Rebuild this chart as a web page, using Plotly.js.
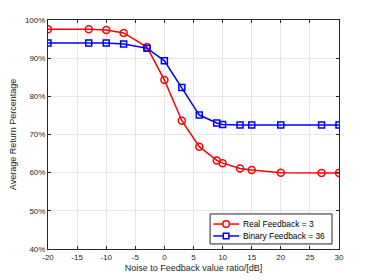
<!DOCTYPE html>
<html><head><meta charset="utf-8">
<script src="https://cdn.plot.ly/plotly-3.0.1.min.js"></script>
<style>html,body{margin:0;padding:0;background:#fff}#c{width:374px;height:280px}</style>
</head><body><div id="c"></div>
<script>
const xVals = [-20, -13, -10, -7, -3, 0, 3, 6, 9, 10, 13, 15, 20, 27, 30];
const realFeedback = [97.6, 97.6, 97.4, 96.6, 92.9, 84.3, 73.6, 66.8, 63.2, 62.5, 61.1, 60.7, 60.0, 59.9, 59.9];
const binaryFeedback = [94.0, 94.0, 94.0, 93.7, 92.6, 89.3, 82.3, 75.1, 73.0, 72.6, 72.5, 72.5, 72.5, 72.5, 72.5];
const seriesNames = ["Real Feedback = 3", "Binary Feedback = 36"];
const seriesColors = ['#ff0000', '#0000ff'];
const xTicks = [-20, -15, -10, -5, 0, 5, 10, 15, 20, 25, 30];
const yTicks = [40, 50, 60, 70, 80, 90, 100];

const FONT = 'Liberation Sans, Arial, sans-serif';
const axisCommon = {
  showgrid: true, gridcolor: '#e6e6e6', gridwidth: 1,
  showline: true, linecolor: '#262626', linewidth: 1, mirror: 'ticks',
  ticks: 'inside', ticklen: 3, tickcolor: '#262626',
  zeroline: false,
  tickfont: {family: FONT, size: 8, color: '#262626'}
};

const data = [
  {x: xVals, y: realFeedback, name: seriesNames[0], type: 'scatter', mode: 'lines+markers',
   line: {color: seriesColors[0], width: 1.5},
   marker: {symbol: 'circle-open', size: 7, color: seriesColors[0], line: {width: 1.5, color: seriesColors[0]}}},
  {x: xVals, y: binaryFeedback, name: seriesNames[1], type: 'scatter', mode: 'lines+markers',
   line: {color: seriesColors[1], width: 1.5},
   marker: {symbol: 'square-open', size: 6, color: seriesColors[1], line: {width: 1.5, color: seriesColors[1]}}}
];

// compact MATLAB-style legend built from shapes + annotations (paper coordinates)
const lg = {x0: 0.557, x1: 0.976, y0: 0.022, y1: 0.153, rows: [0.109, 0.057],
            lineX0: 0.568, lineX1: 0.657, markX: 0.612, textX: 0.664};
const shapes = [
  {type: 'rect', xref: 'paper', yref: 'paper', x0: lg.x0, x1: lg.x1, y0: lg.y0, y1: lg.y1,
   line: {color: '#262626', width: 1}, fillcolor: '#ffffff', layer: 'above'}
];
const annotations = [];
seriesNames.forEach((name, i) => {
  const yy = lg.rows[i];
  shapes.push({type: 'line', xref: 'paper', yref: 'paper', x0: lg.lineX0, x1: lg.lineX1, y0: yy, y1: yy,
    line: {color: seriesColors[i], width: 1.5}, layer: 'above'});
  const half = i === 0 ? 3.3 : 2.8;
  shapes.push({type: i === 0 ? 'circle' : 'rect', xref: 'paper', yref: 'paper',
    xsizemode: 'pixel', ysizemode: 'pixel', xanchor: lg.markX, yanchor: yy,
    x0: -half, x1: half, y0: -half, y1: half,
    line: {color: seriesColors[i], width: 1.5}, fillcolor: '#ffffff', layer: 'above'});
  annotations.push({xref: 'paper', yref: 'paper', x: lg.textX, y: yy, xanchor: 'left', yanchor: 'middle',
    text: name, showarrow: false, font: {family: FONT, size: 8.4, color: '#000000'}});
});

const layout = {
  width: 374, height: 280,
  margin: {l: 48, r: 35, t: 20, b: 31},
  paper_bgcolor: '#ffffff', plot_bgcolor: '#ffffff',
  showlegend: false,
  shapes: shapes, annotations: annotations,
  xaxis: Object.assign({}, axisCommon, {
    range: [-20, 30], tickvals: xTicks, ticktext: xTicks.map(String),
    title: {text: 'Noise to Feedback value ratio/[dB]', standoff: 4,
      font: {family: FONT, size: 9, color: '#262626'}}
  }),
  yaxis: Object.assign({}, axisCommon, {
    range: [40, 100], tickvals: yTicks, ticktext: yTicks.map(v => v + '%'),
    title: {text: 'Average Return Percentage', standoff: 6,
      font: {family: FONT, size: 9, color: '#262626'}}
  })
};

Plotly.newPlot('c', data, layout, {displayModeBar: false, staticPlot: true});
</script></body></html>
